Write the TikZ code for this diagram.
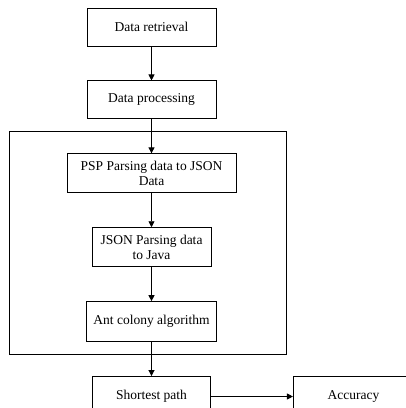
\documentclass[tikz,border=0pt]{standalone}
\usepackage{fontspec}
\setmainfont{Liberation Serif}
\usetikzlibrary{arrows.meta,positioning}
\tikzset{
  box/.style={draw, align=center, minimum height=38pt, inner sep=2pt, line width=0.9pt, font=\fontsize{13.5}{15}\selectfont},
  frame/.style={draw, line width=0.9pt, inner sep=0pt},
  arrow/.style={-{Triangle[length=6pt,width=6pt]}, line width=0.9pt}
}
\begin{document}
\begin{tikzpicture}[x=1pt,y=-1pt,node distance=34pt and 82pt]
  \clip (0,0) rectangle (406,408);
  \node[frame, minimum width=277pt, minimum height=223pt] (stage) at (147.5,242.5) {};

  \node[box, minimum width=129pt] (retr) at (151.5,27) {Data retrieval};
  \node[box, minimum width=129pt, below=of retr] (proc) {Data processing};
  \node[box, minimum width=169pt, minimum height=39pt, below=of proc] (psp) {PSP Parsing data to JSON\\Data};
  \node[box, minimum width=119pt, minimum height=39pt, below=of psp] (json) {JSON Parsing data\\to Java};
  \node[box, minimum width=130pt, minimum height=40pt, below=of json] (ant) {Ant colony algorithm};
  \node[box, minimum width=118pt, minimum height=40pt, below=of ant] (short) {Shortest path};
  \node[box, minimum width=120pt, minimum height=40pt, right=of short] (acc) {Accuracy};

  \draw[arrow] (retr) -- (proc);
  \draw[arrow] (proc) -- (psp);
  \draw[arrow] (psp) -- (json);
  \draw[arrow] (json) -- (ant);
  \draw[arrow] (ant) -- (short);
  \draw[arrow] (short) -- (acc);
\end{tikzpicture}
\end{document}
